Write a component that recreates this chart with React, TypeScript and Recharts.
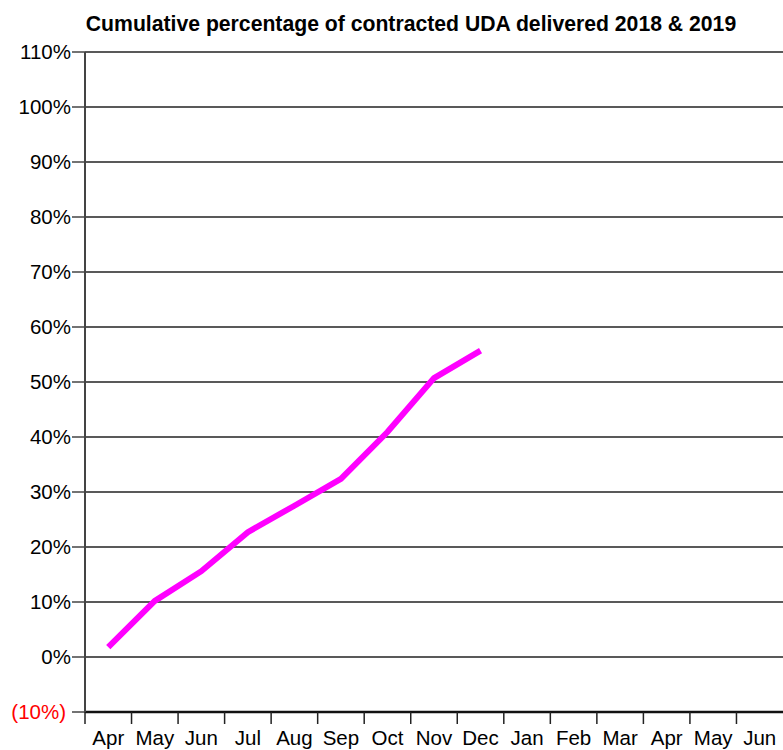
import { CartesianGrid, Line, LineChart, XAxis, YAxis } from "recharts";

const months = [
  "Apr", "May", "Jun", "Jul", "Aug", "Sep", "Oct", "Nov",
  "Dec", "Jan", "Feb", "Mar", "Apr", "May", "Jun",
];
// cumulative % of contracted UDA, Apr..Dec
const delivered = [1.8, 10.2, 15.6, 22.7, 27.5, 32.4, 40.9, 50.7, 55.7];
const yTicks = [-10, 0, 10, 20, 30, 40, 50, 60, 70, 80, 90, 100, 110];

const W = 783;
const H = 750;
const AXIS_W = 85;
const HALF_BAND = (W - AXIS_W) / months.length / 2;
const FONT = "'Liberation Sans', Arial, sans-serif";

const data = months.map((m, i) => ({
  month: m,
  value: i < delivered.length ? delivered[i] : null,
}));

function YTick({ x, y, payload }: any) {
  const v = payload.value as number;
  const neg = v < 0;
  const label = neg ? `(${Math.abs(v)}%)` : `${v}%`;
  return (
    <text
      x={neg ? x - 5 : x}
      y={y}
      dy="0.36em"
      textAnchor="end"
      fontSize={20.5}
      fontFamily={FONT}
      fill={neg ? "#ff0000" : "#000"}
    >
      {label}
    </text>
  );
}

function XTick({ x, y, payload }: any) {
  const left = x - HALF_BAND;
  return (
    <g>
      <line x1={left} y1={y} x2={left} y2={y + 12} stroke="#222" strokeWidth={1.5} />
      <text x={x} y={y + 33} textAnchor="middle" fontSize={20.5} fontFamily={FONT} fill="#000">
        {payload.value}
      </text>
    </g>
  );
}

export default function App() {
  return (
    <div style={{ position: "absolute", left: 0, top: 0, width: W, height: H, background: "#fff" }}>
      <div
        style={{
          position: "absolute",
          left: 11,
          top: 12,
          width: 800,
          textAlign: "center",
          whiteSpace: "nowrap",
          fontFamily: FONT,
          fontWeight: "bold",
          fontSize: 21.2,
          color: "#000",
        }}
      >
        Cumulative percentage of contracted UDA delivered 2018 &amp; 2019
      </div>
      <LineChart width={W} height={H} data={data} margin={{ top: 52, right: 0, bottom: 0, left: 0 }}>
        <CartesianGrid vertical={false} stroke="#222" strokeWidth={1.5} />
        <XAxis
          dataKey="month"
          interval={0}
          height={38}
          tickSize={0}
          tickMargin={0}
          tickLine={false}
          padding={{ left: HALF_BAND, right: HALF_BAND }}
          axisLine={{ stroke: "#111", strokeWidth: 2.5 }}
          tick={<XTick />}
          allowDuplicatedCategory
        />
        <YAxis
          width={AXIS_W}
          domain={[-10, 110]}
          ticks={yTicks}
          interval={0}
          tickSize={13}
          tickMargin={1}
          tickLine={{ stroke: "#444", strokeWidth: 1.5 }}
          axisLine={{ stroke: "#444", strokeWidth: 2 }}
          tick={<YTick />}
        />
        <Line
          type="linear"
          dataKey="value"
          stroke="#ff00ff"
          strokeWidth={6}
          dot={false}
          activeDot={false}
          isAnimationActive={false}
        />
      </LineChart>
    </div>
  );
}
